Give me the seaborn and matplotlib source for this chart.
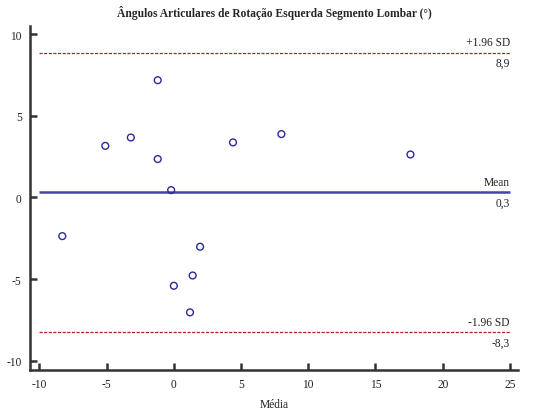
import matplotlib
matplotlib.use("Agg")
import matplotlib.pyplot as plt
import seaborn as sns
import pandas as pd

media = [-5.1, -3.2, -1.2, -1.2, 4.4, 8.0, 17.6, -0.2, -8.3, 1.95, 1.4, 0.0, 1.2]
diferenca = [3.16, 3.67, 7.18, 2.35, 3.37, 3.88, 2.63, 0.45, -2.37, -3.02, -4.78, -5.41, -7.04]

mean_diff = 0.31
upper_loa = 8.87
lower_loa = -8.26

x_ticks = [-10, -5, 0, 5, 10, 15, 20, 25]
y_ticks = [-10, -5, 0, 5, 10]

df = pd.DataFrame({'media': media, 'diferenca': diferenca})

sns.set_style("white")
plt.rcParams['font.family'] = ['Liberation Serif', 'DejaVu Serif']

fig = plt.figure(figsize=(5.37, 4.14), dpi=100)
ax = fig.add_axes([0.0559, 0.1046, 0.9087, 0.8302])

navy = '#2a2a9a'
red = '#b02020'
fs = 8.3

ax.hlines(mean_diff, -10, 25, color='#4545a5', linewidth=1.8, zorder=1)
ax.hlines([upper_loa, lower_loa], -10, 25, color=red, linewidth=0.9,
          linestyles=(0, (2.5, 1.2)), zorder=1)

sns.scatterplot(data=df, x='media', y='diferenca', ax=ax, marker='o',
                s=24, facecolor='none', edgecolor=navy, linewidth=1.0, zorder=3)

# rotulos das linhas
for val, txt in [(upper_loa, '+1.96 SD'), (mean_diff, 'Mean'), (lower_loa, '-1.96 SD')]:
    ax.annotate(txt, (25, val), xytext=(0, 3), textcoords='offset points',
                ha='right', va='bottom', fontsize=fs, color='#222222')
    ax.annotate(f'{val:.1f}'.replace('.', ','), (25, val), xytext=(0, -3),
                textcoords='offset points', ha='right', va='top',
                fontsize=fs, color='#222222')

ax.set_xlim(-10.7, 25.6)
ax.set_ylim(-10.55, 10.5)
ax.set_xticks(x_ticks)
ax.set_yticks(y_ticks)
ax.set_xticklabels([str(t) for t in x_ticks])
ax.set_yticklabels([str(t) for t in y_ticks])

for s in ['top', 'right']:
    ax.spines[s].set_visible(False)
for s in ['left', 'bottom']:
    ax.spines[s].set_linewidth(1.8)
    ax.spines[s].set_color('#333333')

ax.tick_params(axis='both', bottom=True, left=True, direction='in', length=5,
               width=1.8, color='#333333', labelsize=fs, labelcolor='#222222')
ax.tick_params(axis='x', pad=6)
ax.tick_params(axis='y', pad=6)

ax.set_xlabel('Média', fontsize=fs, color='#222222', labelpad=6)
ax.set_ylabel('')
ax.set_title('Ângulos Articulares de Rotação Esquerda Segmento Lombar (°)',
             fontsize=fs, fontweight='bold', pad=7)

fig.savefig('out.png', dpi=100)
